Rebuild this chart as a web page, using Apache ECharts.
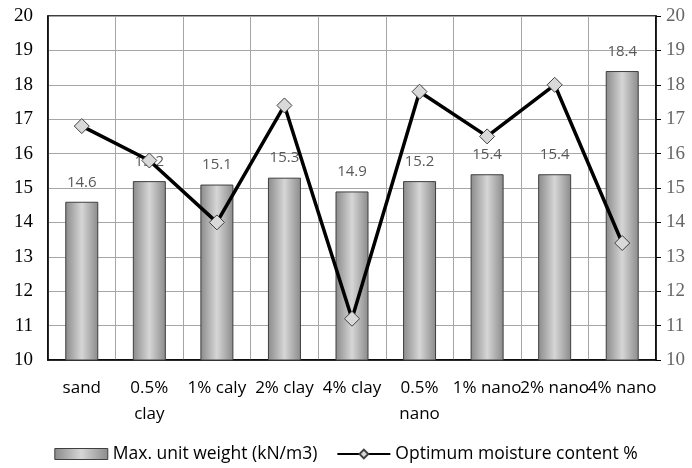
<!DOCTYPE html>
<html><head><meta charset="utf-8">
<script src="https://cdn.jsdelivr.net/npm/echarts@6/dist/echarts.min.js"></script>
<style>html,body{margin:0;padding:0;background:#fff}#c{width:692px;height:468px}</style>
</head><body><div id="c"></div>
<script>
const categories = ['sand', '0.5%\nclay', '1% caly', '2% clay', '4% clay', '0.5%\nnano', '1% nano', '2% nano', '4% nano'];
const unitWeight = [14.6, 15.2, 15.1, 15.3, 14.9, 15.2, 15.4, 15.4, 18.4];
const moisture = [16.8, 15.8, 14.0, 17.4, 11.2, 17.8, 16.5, 18.0, 13.4];
const seriesNames = ['Max. unit weight (kN/m3)', 'Optimum moisture content %'];

const chart = echarts.init(document.getElementById('c'), null, {renderer: 'canvas'});
const barGrad = new echarts.graphic.LinearGradient(0, 0, 1, 0, [
  {offset: 0, color: '#8a8a8a'}, {offset: 0.5, color: '#d6d6d6'}, {offset: 1, color: '#8a8a8a'}
]);
const sansFont = 'Open Sans';
const serifFont = 'Liberation Serif';
chart.setOption({
  animation: false,
  grid: {left: 48, right: 36, top: 16, bottom: 108, show: true, borderColor: '#000', borderWidth: 1.5, backgroundColor: 'transparent'},
  legend: {
    bottom: 0, left: 'center', itemWidth: 53, itemHeight: 11, itemGap: 19,
    textStyle: {fontFamily: sansFont, fontSize: 17.5, color: '#000'},
    data: [
      {name: seriesNames[0], icon: 'rect', itemStyle: {color: barGrad, borderColor: '#3f3f3f', borderWidth: 1}},
      {name: seriesNames[1]}
    ]
  },
  xAxis: {
    type: 'category', data: categories,
    axisLine: {lineStyle: {color: '#000', width: 1.5}},
    axisTick: {show: false},
    splitLine: {show: true, lineStyle: {color: '#a6a6a6', width: 1}},
    axisLabel: {interval: 0, fontFamily: sansFont, fontSize: 17, color: '#000', margin: 15, lineHeight: 26}
  },
  yAxis: [
    {type: 'value', min: 10, max: 20, interval: 1,
     axisLine: {show: true, lineStyle: {color: '#000', width: 1.5}},
     axisTick: {show: false},
     splitLine: {lineStyle: {color: '#a6a6a6', width: 1}},
     axisLabel: {fontFamily: serifFont, fontSize: 19, color: '#000', margin: 15}},
    {type: 'value', min: 10, max: 20, interval: 1, position: 'right',
     axisLine: {show: true, lineStyle: {color: '#000', width: 1.5}},
     axisTick: {show: true, length: 5, lineStyle: {color: '#000'}},
     splitLine: {show: false},
     axisLabel: {fontFamily: serifFont, fontSize: 19, color: '#666', margin: 10}}
  ],
  series: [
    {name: seriesNames[0], type: 'bar', data: unitWeight, barWidth: 33,
     itemStyle: {color: barGrad, borderColor: '#3f3f3f', borderWidth: 1},
     label: {show: true, position: 'top', distance: 12, fontFamily: sansFont, fontSize: 15, color: '#595959'}},
    {name: seriesNames[1], type: 'line', yAxisIndex: 1, data: moisture,
     symbol: 'diamond', symbolSize: 15,
     lineStyle: {color: '#000', width: 3.5},
     itemStyle: {color: '#d9d9d9', borderColor: '#404040', borderWidth: 1}}
  ]
});
</script></body></html>
